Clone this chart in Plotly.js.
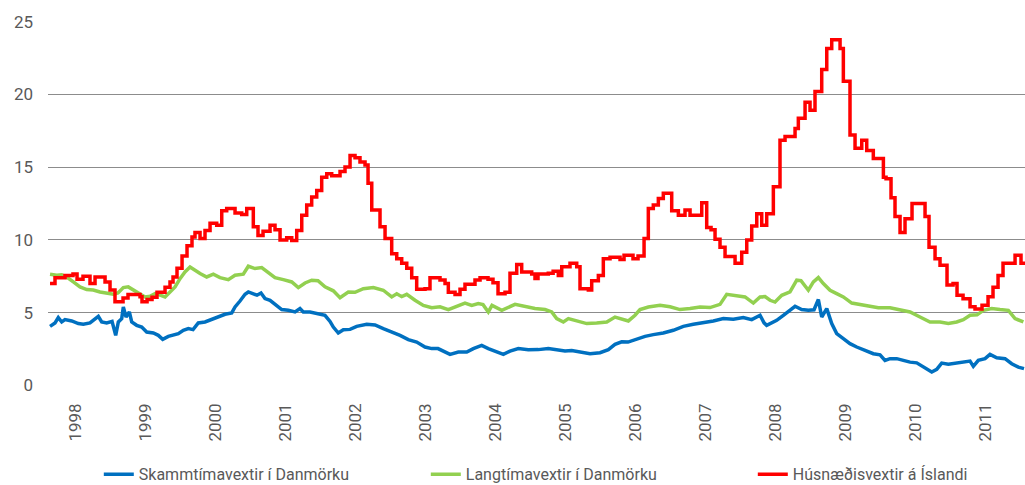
<!DOCTYPE html>
<html>
<head>
<meta charset="utf-8">
<script src="https://cdn.plot.ly/plotly-3.0.1.min.js"></script>
<style>html,body{margin:0;padding:0;background:#fff;}#chart{width:1025px;height:485px;}</style>
</head>
<body>
<div id="chart"></div>
<script>
// Series names
const seriesNames = ["Skammtímavextir í Danmörku", "Langtímavextir í Danmörku", "Húsnæðisvextir á Íslandi"];
// Year tick labels
const yearTicks = [1998,1999,2000,2001,2002,2003,2004,2005,2006,2007,2008,2009,2010,2011];
const yearLabels = ["1998","1999","2000","2001","2002","2003","2004","2005","2006","2007","2008","2009","2010","2011"];

// Short-term rates in Denmark (blue)
const shortT = [1997.643,1997.714,1997.761,1997.81,1997.857,1997.953,1998.047,1998.119,1998.214,1998.333,1998.381,1998.453,1998.529,1998.581,1998.619,1998.667,1998.69,1998.729,1998.776,1998.81,1998.881,1998.953,1999.024,1999.119,1999.19,1999.253,1999.333,1999.4,1999.476,1999.547,1999.619,1999.686,1999.761,1999.857,1999.953,2000.047,2000.143,2000.239,2000.286,2000.357,2000.429,2000.476,2000.547,2000.6,2000.657,2000.714,2000.786,2000.857,2000.953,2001.047,2001.143,2001.214,2001.261,2001.357,2001.453,2001.571,2001.643,2001.69,2001.761,2001.833,2001.929,2002.024,2002.167,2002.286,2002.404,2002.524,2002.643,2002.761,2002.881,2003.0,2003.096,2003.186,2003.286,2003.357,2003.476,2003.596,2003.69,2003.81,2003.904,2004.0,2004.119,2004.214,2004.333,2004.476,2004.619,2004.761,2004.881,2005.0,2005.096,2005.239,2005.357,2005.5,2005.619,2005.714,2005.81,2005.9,2006.024,2006.143,2006.261,2006.404,2006.547,2006.69,2006.833,2006.976,2007.119,2007.261,2007.404,2007.547,2007.667,2007.786,2007.843,2007.881,2007.929,2008.024,2008.119,2008.214,2008.286,2008.381,2008.476,2008.557,2008.619,2008.667,2008.739,2008.81,2008.881,2008.976,2009.071,2009.167,2009.286,2009.404,2009.5,2009.571,2009.643,2009.739,2009.833,2009.929,2010.024,2010.119,2010.239,2010.31,2010.381,2010.476,2010.595,2010.69,2010.786,2010.833,2010.904,2011.0,2011.071,2011.167,2011.286,2011.381,2011.476,2011.557];
const shortV = [4.06,4.29,4.66,4.36,4.52,4.43,4.25,4.2,4.29,4.75,4.36,4.29,4.4,3.44,4.36,4.59,5.39,4.7,5.05,4.36,4.13,4.01,3.67,3.6,3.44,3.17,3.37,3.44,3.56,3.79,3.9,3.83,4.29,4.36,4.52,4.7,4.89,4.98,5.39,5.8,6.26,6.42,6.26,6.2,6.35,5.97,5.85,5.57,5.21,5.16,5.05,5.28,5.05,5.05,4.93,4.82,4.4,4.01,3.6,3.83,3.85,4.06,4.2,4.15,3.9,3.67,3.44,3.15,2.98,2.64,2.53,2.53,2.29,2.13,2.29,2.29,2.53,2.75,2.53,2.36,2.13,2.36,2.53,2.45,2.46,2.53,2.45,2.36,2.4,2.29,2.18,2.25,2.46,2.82,3.0,2.98,3.21,3.37,3.49,3.6,3.79,4.06,4.2,4.29,4.43,4.59,4.55,4.66,4.52,4.82,4.3,4.13,4.25,4.47,4.82,5.16,5.44,5.21,5.16,5.2,5.9,4.7,5.28,4.25,3.56,3.21,2.87,2.64,2.41,2.18,2.1,1.72,1.84,1.84,1.72,1.6,1.55,1.26,0.92,1.1,1.53,1.45,1.53,1.6,1.67,1.31,1.72,1.84,2.13,1.9,1.84,1.49,1.26,1.15];

// Long-term rates in Denmark (green)
const longT = [1997.643,1997.739,1997.81,1997.881,1997.976,1998.071,1998.167,1998.261,1998.357,1998.453,1998.547,1998.614,1998.69,1998.761,1998.833,1998.929,1999.0,1999.071,1999.143,1999.214,1999.286,1999.357,1999.429,1999.5,1999.571,1999.643,1999.714,1999.786,1999.881,1999.976,2000.071,2000.19,2000.286,2000.404,2000.476,2000.571,2000.667,2000.761,2000.857,2000.976,2001.096,2001.19,2001.286,2001.381,2001.471,2001.571,2001.69,2001.786,2001.904,2002.0,2002.119,2002.262,2002.404,2002.524,2002.596,2002.667,2002.739,2002.857,2002.976,2003.096,2003.214,2003.333,2003.453,2003.571,2003.667,2003.761,2003.829,2003.904,2003.957,2004.096,2004.286,2004.429,2004.571,2004.714,2004.81,2004.881,2004.976,2005.048,2005.167,2005.31,2005.452,2005.596,2005.714,2005.833,2005.905,2006.0,2006.071,2006.19,2006.357,2006.5,2006.643,2006.786,2006.929,2007.071,2007.214,2007.31,2007.429,2007.571,2007.69,2007.786,2007.857,2007.929,2008.0,2008.096,2008.214,2008.31,2008.371,2008.476,2008.548,2008.619,2008.69,2008.786,2008.881,2008.976,2009.096,2009.214,2009.333,2009.476,2009.643,2009.786,2009.929,2010.071,2010.214,2010.357,2010.476,2010.595,2010.69,2010.786,2010.886,2010.976,2011.095,2011.214,2011.333,2011.429,2011.548];
const longV = [7.64,7.57,7.6,7.45,7.11,6.77,6.59,6.55,6.42,6.31,6.26,6.35,6.72,6.77,6.55,6.26,6.08,6.12,6.31,6.2,6.08,6.42,6.77,7.34,7.8,8.14,7.91,7.69,7.45,7.64,7.41,7.27,7.57,7.64,8.19,8.03,8.1,7.73,7.41,7.27,7.11,6.72,7.04,7.23,7.2,6.77,6.5,6.03,6.42,6.4,6.65,6.72,6.54,6.08,6.3,6.1,6.26,5.85,5.5,5.34,5.4,5.21,5.44,5.66,5.5,5.62,5.55,5.05,5.5,5.16,5.57,5.4,5.28,5.21,5.05,4.59,4.36,4.59,4.43,4.25,4.29,4.36,4.7,4.52,4.43,4.82,5.21,5.39,5.5,5.4,5.21,5.28,5.39,5.35,5.57,6.26,6.19,6.08,5.66,6.08,6.1,5.85,5.73,6.19,6.42,7.23,7.2,6.54,7.11,7.41,7.0,6.54,6.31,6.08,5.66,5.57,5.5,5.34,5.34,5.21,5.05,4.7,4.36,4.36,4.25,4.36,4.52,4.82,4.85,5.16,5.28,5.21,5.16,4.59,4.36];

// Housing rates in Iceland (red, step changes)
const iceT = [1997.643,1997.714,1997.857,1997.971,1998.029,1998.114,1998.214,1998.286,1998.429,1998.5,1998.571,1998.686,1998.757,1998.929,1998.957,1999.029,1999.1,1999.171,1999.286,1999.357,1999.4,1999.457,1999.529,1999.6,1999.671,1999.714,1999.786,1999.857,1999.929,2000.024,2000.096,2000.167,2000.286,2000.381,2000.453,2000.547,2000.614,2000.686,2000.786,2000.857,2000.929,2001.024,2001.096,2001.167,2001.239,2001.31,2001.381,2001.453,2001.524,2001.596,2001.667,2001.786,2001.857,2001.929,2002.0,2002.071,2002.143,2002.186,2002.239,2002.357,2002.429,2002.524,2002.596,2002.667,2002.739,2002.81,2002.881,2003.0,2003.071,2003.214,2003.286,2003.333,2003.429,2003.5,2003.571,2003.714,2003.786,2003.9,2003.971,2004.043,2004.143,2004.214,2004.31,2004.381,2004.524,2004.571,2004.614,2004.761,2004.83,2004.904,2004.953,2005.071,2005.167,2005.214,2005.333,2005.381,2005.476,2005.547,2005.643,2005.786,2005.843,2005.971,2006.043,2006.129,2006.19,2006.261,2006.333,2006.404,2006.524,2006.619,2006.714,2006.786,2006.953,2007.024,2007.086,2007.143,2007.214,2007.286,2007.429,2007.524,2007.596,2007.667,2007.739,2007.81,2007.881,2007.976,2008.071,2008.143,2008.286,2008.333,2008.429,2008.5,2008.571,2008.667,2008.739,2008.81,2008.929,2008.976,2009.071,2009.143,2009.239,2009.31,2009.404,2009.548,2009.586,2009.657,2009.714,2009.786,2009.857,2009.957,2010.143,2010.2,2010.286,2010.357,2010.457,2010.543,2010.6,2010.686,2010.786,2010.857,2010.957,2011.043,2011.114,2011.186,2011.257,2011.429,2011.514,2011.571];
const iceV = [7.0,7.4,7.55,7.65,7.3,7.5,7.0,7.45,7.1,6.55,5.75,6.0,6.25,6.1,5.75,5.9,6.05,6.4,6.75,7.1,7.45,8.05,8.9,9.6,10.2,10.5,10.1,10.65,11.15,11.0,12.0,12.15,11.85,11.75,12.15,10.9,10.3,10.6,11.0,10.7,10.0,10.15,9.95,10.65,11.7,12.4,12.95,13.4,14.3,14.55,14.4,14.7,15.0,15.8,15.65,15.35,15.15,13.9,12.05,10.9,10.1,9.05,8.7,8.4,8.05,7.4,6.6,6.65,7.4,7.25,7.0,6.4,6.25,6.6,6.95,7.25,7.4,7.3,7.05,6.3,6.4,7.7,8.3,7.8,7.65,7.35,7.65,7.7,7.85,7.55,8.15,8.4,8.15,6.65,6.55,7.2,7.55,8.7,8.8,8.65,8.95,8.7,8.9,10.1,12.15,12.4,12.85,13.2,12.0,11.7,12.05,11.7,12.55,10.85,10.7,10.05,9.5,8.85,8.4,9.15,10.0,10.95,11.8,11.0,11.8,13.65,16.85,17.1,17.65,18.35,19.45,18.9,20.2,21.7,23.15,23.75,23.15,20.9,17.2,16.3,16.85,16.15,15.6,14.3,14.2,12.9,11.6,10.5,11.45,12.5,11.6,9.5,8.7,8.25,6.9,7.0,6.2,5.95,5.4,5.25,5.5,6.1,6.75,7.55,8.4,8.95,8.4,8.4];

const lw = 3.5;
const traces = [
  {x: shortT, y: shortV, name: seriesNames[0], type: 'scatter', mode: 'lines', line: {color: '#0070C0', width: lw}},
  {x: longT, y: longV, name: seriesNames[1], type: 'scatter', mode: 'lines', line: {color: '#92D050', width: lw}},
  {x: iceT, y: iceV, name: seriesNames[2], type: 'scatter', mode: 'lines', line: {color: '#FF0000', width: lw, shape: 'hv'}}
];

const fontFam = 'Roboto, Arial, sans-serif';
const layout = {
  width: 1025, height: 485,
  margin: {l: 48, r: 0, t: 21, b: 99, autoexpand: false},
  paper_bgcolor: '#ffffff', plot_bgcolor: '#ffffff',
  font: {family: fontFam, color: '#595959', size: 16},
  showlegend: true,
  legend: {orientation: 'h', x: 0.052, xanchor: 'left', y: -0.242, yanchor: 'middle',
           font: {family: fontFam, size: 16, color: '#595959'}, entrywidth: 282, entrywidthmode: 'pixels', traceorder: 'normal'},
  xaxis: {range: [1997.614, 2011.571], tickmode: 'array', tickvals: yearTicks, ticktext: yearLabels,
          tickangle: -90, showgrid: false, zeroline: false, showline: false, ticks: '',
          tickfont: {family: fontFam, size: 17, color: '#595959'}, ticklabelstandoff: 13, fixedrange: true},
  yaxis: {range: [-0.04, 25.04], tickvals: [0,5,10,15,20,25], showgrid: true, gridcolor: '#8c8c8c', gridwidth: 1,
          zeroline: false, showline: false, ticks: '', tickfont: {family: fontFam, size: 17, color: '#595959'},
          ticklabelstandoff: 14, fixedrange: true}
};
Plotly.newPlot('chart', traces, layout, {displayModeBar: false, staticPlot: true});
</script>
</body>
</html>
